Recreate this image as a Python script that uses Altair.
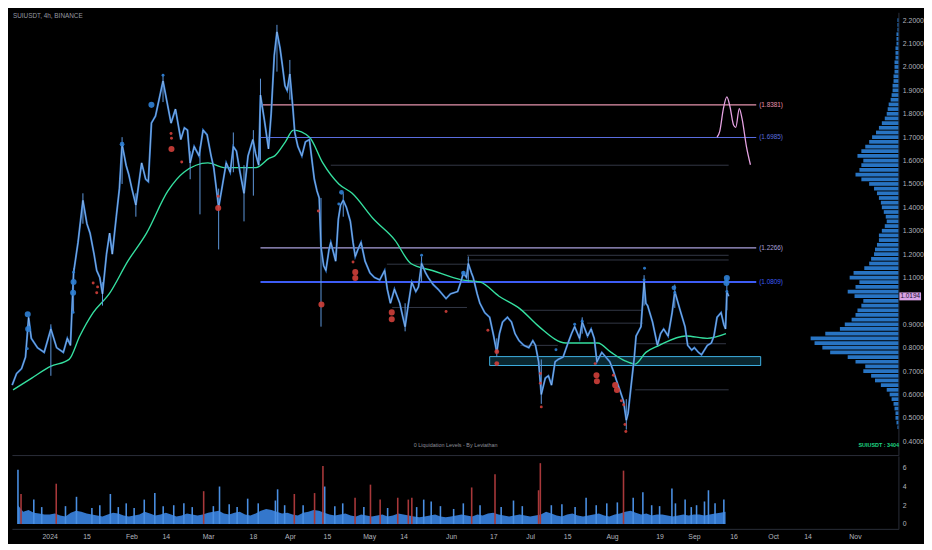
import altair as alt
import pandas as pd

# ---------------- data ----------------
price_time = [
    "2023-12-19T16:00", "2023-12-21T08:00", "2023-12-23T04:00", "2023-12-24T16:00", "2023-12-25T20:00",
    "2023-12-26T20:00", "2023-12-29T04:00", "2023-12-31T16:00", "2024-01-03T04:00", "2024-01-05T08:00",
    "2024-01-07T20:00", "2024-01-09T08:00", "2024-01-10T12:00", "2024-01-11T16:00", "2024-01-13T08:00",
    "2024-01-15T04:00", "2024-01-16T16:00", "2024-01-17T20:00", "2024-01-19T08:00", "2024-01-20T08:00",
    "2024-01-21T12:00", "2024-01-22T12:00", "2024-01-24T00:00", "2024-01-25T04:00", "2024-01-26T04:00",
    "2024-01-27T16:00", "2024-01-28T20:00", "2024-01-29T20:00", "2024-01-31T08:00", "2024-02-01T08:00",
    "2024-02-02T12:00", "2024-02-04T00:00", "2024-02-06T04:00", "2024-02-07T16:00", "2024-02-08T16:00",
    "2024-02-09T20:00", "2024-02-11T08:00", "2024-02-12T16:00", "2024-02-14T04:00", "2024-02-15T16:00",
    "2024-02-17T04:00", "2024-02-18T20:00", "2024-02-20T20:00", "2024-02-22T04:00", "2024-02-23T08:00",
    "2024-02-24T08:00", "2024-02-25T20:00", "2024-02-27T16:00", "2024-02-29T04:00", "2024-03-01T16:00",
    "2024-03-03T04:00", "2024-03-04T04:00", "2024-03-06T00:00", "2024-03-07T12:00", "2024-03-08T20:00",
    "2024-03-10T08:00", "2024-03-11T12:00", "2024-03-12T16:00", "2024-03-14T00:00", "2024-03-15T12:00",
    "2024-03-17T00:00", "2024-03-18T20:00", "2024-03-19T20:00", "2024-03-21T00:00", "2024-03-21T16:00",
    "2024-03-23T04:00", "2024-03-24T16:00", "2024-03-25T16:00", "2024-03-26T20:00", "2024-03-27T20:00",
    "2024-03-29T00:00", "2024-03-29T20:00", "2024-03-30T20:00", "2024-03-31T16:00", "2024-04-01T16:00",
    "2024-04-02T20:00", "2024-04-03T12:00", "2024-04-04T16:00", "2024-04-06T04:00", "2024-04-07T12:00",
    "2024-04-09T00:00", "2024-04-10T04:00", "2024-04-10T20:00", "2024-04-11T20:00", "2024-04-12T16:00",
    "2024-04-13T08:00", "2024-04-14T08:00", "2024-04-15T04:00", "2024-04-16T08:00", "2024-04-17T00:00",
    "2024-04-18T04:00", "2024-04-18T20:00", "2024-04-19T20:00", "2024-04-20T16:00", "2024-04-21T16:00",
    "2024-04-22T20:00", "2024-04-24T08:00", "2024-04-25T08:00", "2024-04-26T04:00", "2024-04-27T04:00",
    "2024-04-28T08:00", "2024-04-29T20:00", "2024-05-01T16:00", "2024-05-03T08:00", "2024-05-05T08:00",
    "2024-05-07T04:00", "2024-05-08T04:00", "2024-05-09T08:00", "2024-05-10T20:00", "2024-05-11T20:00",
    "2024-05-12T20:00", "2024-05-14T00:00", "2024-05-14T20:00", "2024-05-15T20:00", "2024-05-17T08:00",
    "2024-05-18T20:00", "2024-05-19T20:00", "2024-05-21T00:00", "2024-05-22T12:00", "2024-05-23T12:00",
    "2024-05-25T08:00", "2024-05-27T04:00", "2024-05-28T16:00", "2024-05-30T04:00", "2024-05-31T20:00",
    "2024-06-03T12:00", "2024-06-04T16:00", "2024-06-05T16:00", "2024-06-06T20:00", "2024-06-07T12:00",
    "2024-06-08T16:00", "2024-06-09T08:00", "2024-06-10T20:00", "2024-06-11T20:00", "2024-06-13T16:00",
    "2024-06-15T12:00", "2024-06-17T00:00", "2024-06-18T04:00", "2024-06-19T04:00", "2024-06-20T08:00",
    "2024-06-22T04:00", "2024-06-23T16:00", "2024-06-25T00:00", "2024-06-26T12:00", "2024-06-28T08:00",
    "2024-06-30T04:00", "2024-07-01T16:00", "2024-07-02T16:00", "2024-07-03T20:00", "2024-07-04T20:00",
    "2024-07-06T08:00", "2024-07-07T12:00", "2024-07-08T16:00", "2024-07-10T00:00", "2024-07-11T04:00",
    "2024-07-13T00:00", "2024-07-14T20:00", "2024-07-16T04:00", "2024-07-17T08:00", "2024-07-19T04:00",
    "2024-07-20T04:00", "2024-07-22T04:00", "2024-07-23T12:00", "2024-07-24T16:00", "2024-07-25T16:00",
    "2024-07-27T12:00", "2024-07-29T00:00", "2024-07-30T12:00", "2024-07-31T20:00", "2024-08-02T00:00",
    "2024-08-03T12:00", "2024-08-04T16:00", "2024-08-05T16:00", "2024-08-06T08:00", "2024-08-07T12:00",
    "2024-08-08T16:00", "2024-08-09T08:00", "2024-08-11T04:00", "2024-08-12T08:00", "2024-08-13T00:00",
    "2024-08-13T16:00", "2024-08-15T12:00", "2024-08-17T08:00", "2024-08-18T12:00", "2024-08-19T16:00",
    "2024-08-21T08:00", "2024-08-22T20:00", "2024-08-23T20:00", "2024-08-25T20:00", "2024-08-27T16:00",
    "2024-08-28T16:00", "2024-08-30T04:00", "2024-08-31T04:00", "2024-09-01T16:00", "2024-09-02T20:00",
    "2024-09-05T00:00", "2024-09-06T12:00", "2024-09-07T12:00", "2024-09-08T16:00", "2024-09-10T04:00",
    "2024-09-11T04:00", "2024-09-11T20:00", "2024-09-12T08:00", "2024-09-13T00:00",
]
price_close = [
    0.64, 0.69, 0.71, 0.76, 0.93, 0.84, 0.80, 0.78, 0.88, 0.80,
    0.78, 0.84, 0.81, 1.12, 1.25, 1.43, 1.33, 1.29, 1.20, 1.13,
    1.10, 1.03, 1.20, 1.29, 1.20, 1.36, 1.48, 1.67, 1.58, 1.54,
    1.48, 1.41, 1.59, 1.52, 1.51, 1.76, 1.79, 1.86, 1.94, 1.85,
    1.76, 1.82, 1.69, 1.74, 1.73, 1.59, 1.66, 1.62, 1.73, 1.71,
    1.62, 1.57, 1.40, 1.50, 1.59, 1.55, 1.66, 1.64, 1.55, 1.46,
    1.62, 1.69, 1.63, 1.58, 1.88, 1.77, 1.65, 1.80, 2.05, 2.15,
    2.08, 2.01, 1.92, 1.90, 1.97, 1.82, 1.72, 1.66, 1.62, 1.68,
    1.69, 1.58, 1.52, 1.47, 1.44, 1.23, 1.15, 1.13, 1.22, 1.25,
    1.20, 1.17, 1.35, 1.41, 1.43, 1.40, 1.34, 1.25, 1.19, 1.22,
    1.25, 1.17, 1.12, 1.10, 1.09, 1.13, 1.05, 0.99, 1.05, 1.02,
    0.99, 0.93, 0.89, 0.97, 1.08, 1.04, 1.06, 1.16, 1.12, 1.10,
    1.07, 1.05, 1.03, 1.01, 1.03, 1.04, 1.08, 1.12, 1.10, 1.16,
    1.12, 1.10, 1.03, 0.99, 0.95, 0.93, 0.85, 0.78, 0.86, 0.91,
    0.93, 0.91, 0.86, 0.83, 0.81, 0.80, 0.83, 0.81, 0.74, 0.60,
    0.67, 0.68, 0.64, 0.74, 0.75, 0.76, 0.82, 0.86, 0.89, 0.84,
    0.91, 0.85, 0.88, 0.84, 0.74, 0.78, 0.76, 0.74, 0.70, 0.66,
    0.61, 0.57, 0.49, 0.52, 0.64, 0.76, 0.85, 0.89, 1.08, 0.99,
    0.98, 0.91, 0.81, 0.86, 0.88, 0.85, 0.95, 1.04, 0.96, 0.89,
    0.81, 0.79, 0.80, 0.78, 0.77, 0.81, 0.82, 0.85, 0.93, 0.95,
    0.90, 0.88, 1.04, 1.02,
]

wick_time = ["2024-01-03T04:00", "2024-01-11T16:00", "2024-01-15T04:00", "2024-01-22T12:00",
             "2024-01-29T20:00", "2024-02-04T00:00", "2024-02-14T04:00", "2024-02-24T08:00",
             "2024-02-28T00:00", "2024-03-06T00:00", "2024-03-11T12:00", "2024-03-15T12:00",
             "2024-03-19T00:00", "2024-03-21T16:00", "2024-03-27T20:00", "2024-04-01T16:00",
             "2024-04-13T08:00", "2024-04-21T16:00", "2024-05-14T20:00", "2024-05-21T00:00",
             "2024-06-07T12:00", "2024-06-18T04:00", "2024-07-04T20:00", "2024-07-20T04:00",
             "2024-08-05T16:00", "2024-08-12T08:00", "2024-08-23T20:00", "2024-09-12T08:00"]
wick_low = [0.68, 0.95, 1.33, 0.98, 1.50, 1.36, 1.85, 1.52, 1.37, 1.22, 1.55, 1.34, 1.45, 1.60,
            1.98, 1.86, 0.89, 1.36, 0.87, 1.08, 1.08, 0.76, 0.56, 0.86, 0.45, 0.98, 0.97, 0.96]
wick_high = [0.90, 1.14, 1.46, 1.08, 1.70, 1.46, 1.97, 1.64, 1.66, 1.48, 1.72, 1.58, 1.73, 1.95,
             2.18, 2.03, 1.44, 1.46, 0.99, 1.19, 1.19, 0.84, 0.75, 0.93, 0.58, 1.11, 1.07, 1.10]

ma_time = ["2023-12-20", "2023-12-27", "2024-01-03", "2024-01-10", "2024-01-14", "2024-01-19",
           "2024-01-25", "2024-02-01", "2024-02-08", "2024-02-16", "2024-02-22", "2024-03-02",
           "2024-03-08", "2024-03-14", "2024-03-20", "2024-03-25", "2024-03-27", "2024-03-31",
           "2024-04-03", "2024-04-09", "2024-04-14", "2024-04-20", "2024-04-25", "2024-05-03",
           "2024-05-11", "2024-05-17", "2024-05-25", "2024-06-05", "2024-06-12", "2024-06-19",
           "2024-06-27", "2024-07-04", "2024-07-14", "2024-07-23", "2024-07-26", "2024-07-31",
           "2024-08-05", "2024-08-09", "2024-08-13", "2024-08-18", "2024-08-28", "2024-09-05",
           "2024-09-12"]
ma_value = [0.62, 0.67, 0.72, 0.75, 0.85, 0.95, 1.03, 1.17, 1.29, 1.47, 1.55, 1.59,
            1.57, 1.57, 1.57, 1.61, 1.62, 1.68, 1.73, 1.70, 1.59, 1.50, 1.46, 1.35,
            1.26, 1.16, 1.13, 1.09, 1.08, 1.02, 0.965, 0.89, 0.82, 0.82, 0.82, 0.78,
            0.745, 0.73, 0.78, 0.81, 0.85, 0.84, 0.86]

liq_time = [
    "2023-12-25T12:00", "2023-12-25T16:00", "2023-12-25T08:00", "2024-01-11T16:00", "2024-01-11T16:00",
    "2024-01-11T12:00", "2024-01-11T12:00", "2024-01-29T20:00", "2024-02-09T20:00", "2024-02-14T04:00",
    "2024-04-21T00:00", "2024-04-20T00:00", "2024-05-21T00:00", "2024-06-05T16:00", "2024-07-10T08:00",
    "2024-07-17T08:00", "2024-07-20T04:00", "2024-08-12T12:00", "2024-08-12T08:00", "2024-08-23T12:00",
    "2024-08-23T20:00", "2024-09-12T08:00", "2024-09-12T04:00", "2024-09-12T08:00",
    "2024-01-19T00:00", "2024-01-20T16:00", "2024-01-20T08:00", "2024-02-17T04:00", "2024-02-17T08:00",
    "2024-02-17T08:00", "2024-02-21T04:00", "2024-03-05T20:00", "2024-03-05T20:00", "2024-04-12T08:00",
    "2024-04-13T12:00", "2024-04-25T08:00", "2024-04-26T04:00", "2024-04-26T04:00", "2024-05-09T20:00",
    "2024-05-09T20:00", "2024-05-30T04:00", "2024-06-14T20:00", "2024-06-18T04:00", "2024-06-18T04:00",
    "2024-07-04T12:00", "2024-07-04T12:00", "2024-07-04T20:00", "2024-07-25T00:00", "2024-07-25T12:00",
    "2024-07-25T16:00", "2024-07-31T20:00", "2024-08-01T12:00", "2024-08-02T04:00", "2024-08-03T20:00",
    "2024-08-04T16:00", "2024-08-05T04:00", "2024-08-05T12:00",
]
liq_price = [
    0.943, 0.88, 0.796, 1.123, 1.081, 1.035, 0.951, 1.67, 1.838, 1.965,
    1.464, 1.414, 1.195, 1.119, 0.791, 0.90, 0.913, 1.14, 1.09, 1.056,
    1.035, 1.098, 1.077, 1.04,
    1.077, 1.06, 1.035, 1.716, 1.695, 1.649, 1.594, 1.447, 1.397, 1.384,
    0.985, 1.166, 1.123, 1.098, 0.951, 0.922, 0.955, 0.875, 0.783, 0.732,
    0.69, 0.648, 0.547, 0.732, 0.682, 0.657, 0.682, 0.64, 0.619, 0.573,
    0.556, 0.472, 0.442,
]
liq_side = ["short"] * 24 + ["long"] * 33
liq_level = [
    3, 3, 1, 1, 3, 3, 1, 2, 3, 1, 2, 1, 1, 2, 1, 1, 1, 1, 1, 2, 1, 3, 3, 1,
    1, 1, 1, 1, 1, 3, 1, 1, 3, 1, 3, 1, 3, 3, 3, 3, 1, 1, 2, 2, 1, 1, 1, 1,
    3, 3, 1, 3, 3, 1, 1, 1, 1,
]

level_price = [1.8381, 1.6985, 1.2266, 1.0809]
level_name = ["L1", "L2", "L3", "L4"]
level_start = "2024-03-21T16:00"
level_end = "2024-09-23T08:00"

seg_start = ["2024-04-17T00:00", "2024-06-07T00:00", "2024-06-07T00:00", "2024-08-09T00:00",
             "2024-06-27T00:00", "2024-07-22T00:00", "2024-08-09T00:00", "2024-05-08T00:00",
             "2024-05-10T00:00", "2024-06-27T00:00"]
seg_end = ["2024-09-13T00:00", "2024-09-13T00:00", "2024-09-13T00:00", "2024-09-13T00:00",
           "2024-08-12T00:00", "2024-08-12T00:00", "2024-09-12T00:00", "2024-06-07T00:00",
           "2024-06-07T00:00", "2024-07-11T00:00"]
seg_price = [1.58, 1.195, 1.175, 0.62, 0.96, 0.905, 0.817, 1.157, 0.972, 0.81]

zone_start, zone_end, zone_low, zone_high = "2024-06-15T12:00", "2024-09-25T00:00", 0.724, 0.762

proj_time = ["2024-09-08T16:00", "2024-09-09T16:00", "2024-09-11T00:00", "2024-09-12T08:00",
             "2024-09-13T12:00", "2024-09-14T20:00", "2024-09-15T16:00", "2024-09-17T00:00",
             "2024-09-18T00:00", "2024-09-19T16:00", "2024-09-21T04:00"]
proj_value = [1.700, 1.725, 1.82, 1.872, 1.83, 1.752, 1.742, 1.822, 1.78, 1.66, 1.582]

last_price = 1.0194

profile_price = [round(0.46 + 0.02 * i, 2) for i in range(88)]
profile_width = [
    1, 2, 3, 3, 4, 5, 7, 9, 12, 18,
    24, 28, 36, 34, 44, 52, 70, 78, 86, 90,
    75, 60, 55, 48, 44, 42, 38, 36, 45, 52,
    44, 40, 50, 46, 35, 30, 28, 25, 24, 22,
    20, 20, 17, 14, 12, 13, 15, 17, 18, 20,
    22, 25, 30, 38, 44, 40, 38, 36, 42, 38,
    34, 30, 27, 23, 20, 17, 14, 12, 11, 10,
    8, 7, 6, 6, 5, 5, 4, 4, 4, 3,
    3, 3, 2, 2, 2, 1, 1, 1,
]

vol_base = [
    2.0, 1.3, 1.5, 1.2, 1.1, 1.0,
    1.0, 1.1, 0.9, 0.8, 1.2, 1.4, 1.3, 1.1, 1.0, 0.9, 0.8, 1.0, 1.2, 1.1, 0.9, 0.8,
    0.9, 1.0, 1.3, 1.1, 0.9, 1.0, 1.2, 1.0, 0.8, 0.9, 1.1, 1.0, 0.9, 1.0, 1.2,
    1.3, 1.4, 1.1, 1.0, 1.2, 1.3, 1.0, 0.9, 1.1, 1.4, 1.6, 1.5, 1.3, 1.1, 1.2,
    1.0, 0.9, 1.2, 1.3, 1.5, 1.4, 1.2, 1.0, 0.9, 1.0, 1.1, 0.9, 0.8, 1.0, 0.9,
    0.8, 0.9, 1.0, 0.8, 0.9, 1.1, 1.0, 0.9, 0.8, 0.7, 0.8, 0.9, 1.0, 0.8, 0.7, 0.8,
    0.9, 1.0, 0.9, 0.8, 1.0, 0.9, 1.1, 1.2, 1.0, 0.9, 0.8, 0.9, 1.0, 0.9, 0.8,
    0.9, 1.0, 1.3, 1.1, 0.9, 0.8, 1.0, 1.1, 0.9, 0.8, 0.9, 1.0, 1.1, 0.9, 0.8, 1.0,
    1.1, 1.3, 1.4, 1.2, 1.0, 1.1, 0.9, 1.0, 1.0, 0.9, 0.8, 0.9, 1.0, 0.9, 1.0,
    1.0, 0.9, 1.0, 1.1, 1.2, 1.3,
]

spike_time = [
    "2023-12-20T00:00", "2023-12-21T04:00", "2023-12-26T00:00", "2023-12-29T00:00", "2024-01-03T12:00",
    "2024-01-07T00:00", "2024-01-11T04:00", "2024-01-17T00:00", "2024-01-20T00:00", "2024-01-24T00:00",
    "2024-01-27T00:00", "2024-01-30T00:00", "2024-02-02T00:00", "2024-02-05T20:00", "2024-02-09T20:00",
    "2024-02-13T00:00", "2024-02-17T00:00", "2024-02-20T20:00", "2024-02-24T00:00", "2024-02-28T08:00",
    "2024-03-03T00:00", "2024-03-05T08:00", "2024-03-09T00:00", "2024-03-12T00:00", "2024-03-16T00:00",
    "2024-03-20T00:00", "2024-03-26T12:00", "2024-03-27T08:00", "2024-03-30T00:00", "2024-04-02T16:00",
    "2024-04-06T00:00", "2024-04-10T08:00", "2024-04-13T12:00", "2024-04-14T04:00", "2024-04-18T00:00",
    "2024-04-21T00:00", "2024-04-25T16:00", "2024-04-29T00:00", "2024-05-01T12:00", "2024-05-05T04:00",
    "2024-05-08T00:00", "2024-05-11T20:00", "2024-05-15T20:00", "2024-05-17T04:00", "2024-05-19T00:00",
    "2024-05-21T16:00", "2024-05-24T12:00", "2024-05-28T00:00", "2024-06-02T00:00", "2024-06-05T16:00",
    "2024-06-08T20:00", "2024-06-12T00:00", "2024-06-17T16:00", "2024-06-20T00:00", "2024-06-24T16:00",
    "2024-06-28T00:00", "2024-07-04T04:00", "2024-07-04T20:00", "2024-07-09T00:00", "2024-07-13T00:00",
    "2024-07-18T00:00", "2024-07-22T04:00", "2024-07-26T00:00", "2024-07-30T00:00", "2024-08-03T00:00",
    "2024-08-05T08:00", "2024-08-09T00:00", "2024-08-12T16:00", "2024-08-16T00:00", "2024-08-19T00:00",
    "2024-08-23T16:00", "2024-08-25T00:00", "2024-08-28T16:00", "2024-08-31T00:00", "2024-09-02T00:00",
    "2024-09-05T00:00", "2024-09-06T12:00", "2024-09-09T00:00", "2024-09-12T08:00",
]
spike_vol = [
    5.8, 3.2, 2.6, 1.8, 4.3, 1.9, 2.9, 1.7, 2.0, 3.2,
    1.8, 2.2, 1.7, 2.6, 3.3, 1.9, 2.0, 2.2, 1.8, 3.5,
    1.9, 4.0, 2.1, 1.8, 2.7, 2.2, 2.5, 3.7, 2.0, 3.2,
    2.0, 3.3, 6.2, 4.0, 1.9, 2.2, 2.8, 1.8, 4.2, 2.6,
    1.7, 2.8, 2.6, 2.8, 1.8, 2.6, 2.4, 1.9, 1.6, 2.2,
    3.9, 2.0, 5.3, 1.8, 2.5, 1.9, 3.6, 6.5, 2.0, 2.1,
    1.8, 2.8, 2.0, 2.2, 2.3, 5.7, 2.8, 3.4, 2.0, 1.9,
    3.8, 2.2, 2.6, 1.8, 2.0, 2.4, 3.6, 2.2, 2.6,
]
spike_side = [
    "up", "down", "up", "up", "down", "up", "up", "up", "up", "up",
    "up", "up", "up", "up", "up", "up", "up", "up", "up", "down",
    "up", "up", "up", "up", "up", "up", "up", "up", "up", "down",
    "up", "down", "down", "up", "up", "up", "down", "up", "down", "down",
    "up", "down", "down", "down", "up", "up", "up", "up", "up", "up",
    "down", "up", "down", "up", "up", "up", "down", "down", "up", "up",
    "up", "up", "up", "up", "up", "down", "up", "up", "up", "up",
    "up", "up", "up", "up", "up", "up", "up", "up", "up",
]

price_ticks = [0.4, 0.5, 0.6, 0.7, 0.8, 0.9, 1.1, 1.2, 1.3, 1.4, 1.5, 1.6,
               1.7, 1.8, 1.9, 2.0, 2.1, 2.2]
vol_ticks = [0, 2, 4, 6]
time_ticks = ["2024-01-01", "2024-01-15", "2024-02-01", "2024-02-14", "2024-03-01", "2024-03-18",
              "2024-04-01", "2024-04-15", "2024-05-01", "2024-05-14", "2024-06-01", "2024-06-17",
              "2024-07-01", "2024-07-15", "2024-08-01", "2024-08-19", "2024-09-01", "2024-09-16",
              "2024-10-01", "2024-10-14", "2024-11-01"]

title_text = "SUIUSDT, 4h, BINANCE"
indicator_text = "0 Liquidation Levels - By Leviathan"
countdown_text = "SUIUSDT : 3404"

# ---------------- tables ----------------
price_df = pd.DataFrame({"t": price_time, "p": price_close})
wick_df = pd.DataFrame({"t": wick_time, "lo": wick_low, "hi": wick_high})
ma_df = pd.DataFrame({"t": [d + "T00:00" for d in ma_time], "p": ma_value})
liq_df = pd.DataFrame({"t": liq_time, "p": liq_price, "side": liq_side, "lvl": liq_level})
lev_df = pd.DataFrame({"s": level_start, "e": level_end, "p": level_price, "name": level_name})
seg_df = pd.DataFrame({"s": seg_start, "e": seg_end, "p": seg_price})
zone_df = pd.DataFrame({"s": [zone_start], "e": [zone_end], "lo": [zone_low], "hi": [zone_high]})
proj_df = pd.DataFrame({"t": proj_time, "p": proj_value})
last_df = pd.DataFrame({"p": [last_price]})
prof_df = pd.DataFrame({"p": profile_price, "w": profile_width})
volb_df = pd.DataFrame({"t": pd.date_range("2023-12-20", periods=len(vol_base), freq="2D"), "v": vol_base})
spk_df = pd.DataFrame({"t": spike_time, "v": spike_vol, "side": spike_side})

# ---------------- styling ----------------
FONT = "Liberation Sans"
LABEL = "#b2b5be"
BORDER = "#2a2e39"
W, H_PRICE, H_VOL = 901, 450, 74
LEVEL_COLORS = {"L1": "#e493ad", "L2": "#5a6ddf", "L3": "#aaa0dc", "L4": "#3d5cf5"}

x_dom = [alt.DateTime(year=2023, month=12, date=19, hours=14),
         alt.DateTime(year=2024, month=11, date=15, hours=14)]
x_scale = alt.Scale(domain=x_dom)
x_axis_top = alt.Axis(labels=False, ticks=False, grid=False, title=None, domain=True,
                      domainColor=BORDER, domainWidth=1)
y_scale = alt.Scale(domain=[0.3411, 2.2336], zero=False, nice=False)
y_axis = alt.Axis(orient="right", values=price_ticks, format=".4f", grid=False, ticks=False,
                  labelColor=LABEL, labelFont=FONT, labelFontSize=7, labelPadding=4,
                  domainColor=BORDER, title=None)


def X(field):
    return alt.X(field, type="temporal", scale=x_scale, axis=x_axis_top)


def Y(field):
    return alt.Y(field, type="quantitative", scale=y_scale, axis=y_axis)


price_wide = alt.Chart(price_df).mark_line(color="#2d74c9", strokeWidth=2.0).encode(x=X("t"), y=Y("p"))
price_thin = alt.Chart(price_df).mark_line(color="#cfe0f7", strokeWidth=0.6, opacity=0.85).encode(
    x=X("t"), y=Y("p"))
wicks = alt.Chart(wick_df).mark_rule(color="#5f98dc", strokeWidth=1).encode(
    x=X("t"), y=Y("lo"), y2="hi")
ma = alt.Chart(ma_df).mark_line(color="#35e0a0", strokeWidth=1.4, interpolate="monotone").encode(
    x=X("t"), y=Y("p"))
segs = alt.Chart(seg_df).mark_rule(color="#333846", strokeWidth=1).encode(x=X("s"), x2="e", y=Y("p"))
zone = alt.Chart(zone_df).mark_rect(fill="#0a2730", stroke="#3fb3e6", strokeWidth=1).encode(
    x=X("s"), x2="e", y=Y("lo"), y2="hi")

level_layers = []
for name, col in LEVEL_COLORS.items():
    base = alt.Chart(lev_df).transform_filter(alt.datum.name == name)
    level_layers.append(base.mark_rule(color=col, strokeWidth=1.8 if name == "L4" else 1.2).encode(
        x=X("s"), x2="e", y=Y("p")))
    level_layers.append(base.transform_calculate(
        lab="'(' + format(datum.p, '.4f') + ')'"
    ).mark_text(align="left", baseline="middle", dx=3, font=FONT, fontSize=6.5, color=col).encode(
        x=X("e"), y=Y("p"), text="lab:N"))

proj = alt.Chart(proj_df).mark_line(color="#e6a3e3", strokeWidth=1.3, interpolate="monotone").encode(
    x=X("t"), y=Y("p"))
size_scale = alt.Scale(domain=[1, 3], range=[9, 38])
dots_short = alt.Chart(liq_df).transform_filter(alt.datum.side == "short").mark_circle(
    color="#2f80d4", opacity=0.9).encode(
    x=X("t"), y=Y("p"), size=alt.Size("lvl:Q", scale=size_scale, legend=None))
dots_long = alt.Chart(liq_df).transform_filter(alt.datum.side == "long").mark_circle(
    color="#cf3f3a", opacity=0.9).encode(
    x=X("t"), y=Y("p"), size=alt.Size("lvl:Q", scale=size_scale, legend=None))
tag_box = alt.Chart(last_df).transform_calculate(
    lo="datum.p - 0.017", hi="datum.p + 0.017"
).mark_rect(color="#d9a3e6").encode(x=alt.value(W + 1), x2=alt.value(W + 23), y=Y("lo:Q"), y2="hi:Q")
tag_text = alt.Chart(last_df).mark_text(
    align="center", baseline="middle", font=FONT, fontSize=6.5, color="#1a1030"
).encode(x=alt.value(W + 12), y=Y("p"), text=alt.Text("p:Q", format=".4f"))

txt_title = alt.Chart(pd.DataFrame({"s": [title_text]})).mark_text(
    align="left", baseline="middle", font=FONT, fontSize=6.5, color="#9598a1"
).encode(x=alt.value(1), y=alt.value(4), text="s:N")
txt_ind = alt.Chart(pd.DataFrame({"s": [indicator_text]})).mark_text(
    align="center", baseline="middle", font=FONT, fontSize=5.5, color="#8c8f99"
).encode(x=alt.value(451), y=alt.value(440), text="s:N")
txt_cd = alt.Chart(pd.DataFrame({"s": [countdown_text]})).mark_text(
    align="center", baseline="middle", font=FONT, fontSize=5.5, color="#1fd483", fontWeight="bold"
).encode(x=alt.value(881), y=alt.value(440), text="s:N")

profile = alt.Chart(prof_df).transform_calculate(zero="0").mark_rule(
    color="#2a7acd", strokeWidth=3.8, opacity=0.95
).encode(
    x=alt.X("w:Q", scale=alt.Scale(domain=[0, 909], reverse=True), axis=None),
    x2="zero:Q",
    y=Y("p"))

time_layers = alt.layer(segs, zone, *level_layers, ma, wicks, price_wide, price_thin, proj,
                        dots_short, dots_long, tag_box, tag_text, txt_title, txt_ind, txt_cd)
price_panel = alt.layer(profile, time_layers).resolve_scale(x="independent").properties(
    width=W, height=H_PRICE)

# ---------------- volume panel ----------------
tick_dt = [alt.DateTime(year=int(d[:4]), month=int(d[5:7]), date=int(d[8:10])) for d in time_ticks]
x_axis_bottom = alt.Axis(
    values=tick_dt, grid=False, ticks=False, title=None, domainColor=BORDER,
    labelColor=LABEL, labelFont=FONT, labelFontSize=7, labelPadding=4,
    labelOverlap=False, labelFlush=False,
    labelExpr="date(datum.value) == 1 ? (month(datum.value) == 0 ? timeFormat(datum.value, '%Y') : "
              "timeFormat(datum.value, '%b')) : timeFormat(datum.value, '%-d')")
v_scale = alt.Scale(domain=[-0.53, 7.26], zero=False, nice=False)
v_axis = alt.Axis(orient="right", values=vol_ticks, format="d", grid=False, ticks=False,
                  labelColor=LABEL, labelFont=FONT, labelFontSize=7, labelPadding=4,
                  domainColor=BORDER, title=None)

VX = alt.X("t:T", scale=x_scale, axis=x_axis_bottom)
VY = alt.Y("v:Q", scale=v_scale, axis=v_axis)
vol_area = alt.Chart(volb_df).mark_area(color="#3477cc", interpolate="linear").encode(x=VX, y=VY)
vol_up = alt.Chart(spk_df).transform_filter(alt.datum.side == "up").mark_bar(
    width=1.6, color="#4a8fe2").encode(x=VX, y=VY)
vol_down = alt.Chart(spk_df).transform_filter(alt.datum.side == "down").mark_bar(
    width=1.6, color="#a8383a").encode(x=VX, y=VY)
vol_panel = alt.layer(vol_area, vol_up, vol_down).properties(width=W, height=H_VOL)

chart = alt.vconcat(price_panel, vol_panel, spacing=1).properties(
    padding=0, background="#000000"
).configure_view(stroke=None).configure_axis(grid=False)

chart.save("out.html", embed_options={"renderer": "svg", "actions": False})
